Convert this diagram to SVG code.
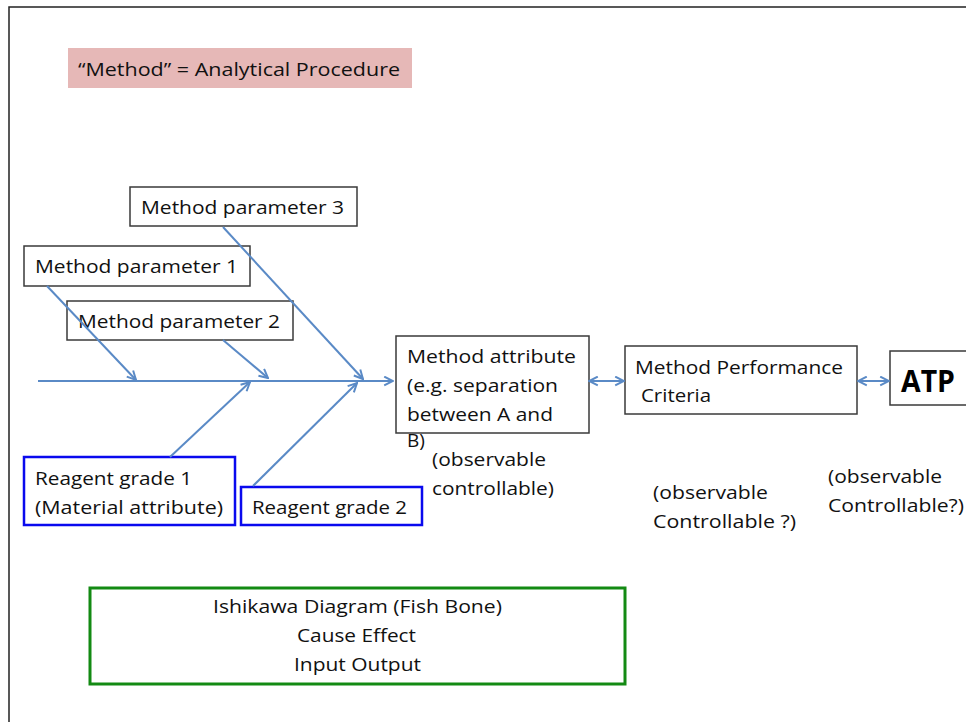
<svg xmlns="http://www.w3.org/2000/svg" width="966" height="722" viewBox="0 0 966 722">
<style>
.t{font-family:"Open Sans","Liberation Sans",sans-serif;font-size:19px;fill:#111}
.b{fill:#fff;stroke:#3a3a3a;stroke-width:1.5}
.blue{fill:#fff;stroke:#0a0aee;stroke-width:2.5}
.c{fill:none;stroke:#5a8ac6;stroke-width:2}
</style>
<defs>
<marker id="ah" viewBox="0 0 10 10" refX="9" refY="5" markerWidth="11" markerHeight="11" markerUnits="userSpaceOnUse" orient="auto-start-reverse">
<path d="M1,1 L9,5 L1,9" fill="none" stroke="#5a8ac6" stroke-width="1.8"/>
</marker>
</defs>
<rect width="966" height="722" fill="#fff"/>
<g id="frame">
<path d="M9,722 V7 H966" fill="none" stroke="#222" stroke-width="1.5"/>
</g>
<g id="title">
<rect x="68" y="48" width="344" height="40" fill="#e6b8b7"/>
<text class="t" x="78" y="76" textLength="322" lengthAdjust="spacingAndGlyphs">“Method” = Analytical Procedure</text>
</g>
<g id="mp3">
<rect class="b" x="130" y="187" width="227" height="39"/>
<text class="t" x="141" y="214" textLength="203" lengthAdjust="spacingAndGlyphs">Method parameter 3</text>
</g>
<g id="mp1">
<rect class="b" x="24" y="246" width="226" height="40"/>
<text class="t" x="35" y="273" textLength="203" lengthAdjust="spacingAndGlyphs">Method parameter 1</text>
</g>
<g id="mp2">
<rect class="b" x="67" y="301" width="226" height="39"/>
<text class="t" x="78" y="328" textLength="202" lengthAdjust="spacingAndGlyphs">Method parameter 2</text>
</g>
<g id="rg1">
<rect class="blue" x="24" y="457" width="211" height="68"/>
<text class="t" x="35" y="485" textLength="157" lengthAdjust="spacingAndGlyphs">Reagent grade 1</text>
<text class="t" x="35" y="514" textLength="188" lengthAdjust="spacingAndGlyphs">(Material attribute)</text>
</g>
<g id="rg2">
<rect class="blue" x="241" y="487" width="181" height="38"/>
<text class="t" x="252" y="514" textLength="155" lengthAdjust="spacingAndGlyphs">Reagent grade 2</text>
</g>
<g id="attr">
<rect class="b" x="396" y="336" width="193" height="97"/>
<text class="t" x="407" y="363" textLength="169" lengthAdjust="spacingAndGlyphs">Method attribute</text>
<text class="t" x="407" y="392" textLength="151" lengthAdjust="spacingAndGlyphs">(e.g. separation</text>
<text class="t" x="407" y="421" textLength="146" lengthAdjust="spacingAndGlyphs">between A and</text>
<text class="t" x="407" y="447">B)</text>
<text class="t" x="432" y="466" textLength="114" lengthAdjust="spacingAndGlyphs">(observable</text>
<text class="t" x="432" y="495" textLength="122" lengthAdjust="spacingAndGlyphs">controllable)</text>
</g>
<g id="mpc">
<rect class="b" x="625" y="346" width="232" height="68"/>
<text class="t" x="635" y="374" textLength="208" lengthAdjust="spacingAndGlyphs">Method Performance</text>
<text class="t" x="641" y="402" textLength="70" lengthAdjust="spacingAndGlyphs">Criteria</text>
<text class="t" x="653" y="499" textLength="115" lengthAdjust="spacingAndGlyphs">(observable</text>
<text class="t" x="653" y="528" textLength="143" lengthAdjust="spacingAndGlyphs">Controllable ?)</text>
</g>
<g id="atp">
<rect class="b" x="890" y="351" width="90" height="54"/>
<text x="901" y="392" style="font-family:'Open Sans','Liberation Sans',sans-serif;font-size:30px;font-weight:bold;fill:#000" textLength="54" lengthAdjust="spacingAndGlyphs">ATP</text>
<text class="t" x="828" y="483" textLength="114" lengthAdjust="spacingAndGlyphs">(observable</text>
<text class="t" x="828" y="512" textLength="136" lengthAdjust="spacingAndGlyphs">Controllable?)</text>
</g>
<g id="legend">
<rect x="90" y="588" width="535" height="96" fill="#fff" stroke="#138a13" stroke-width="3"/>
<text class="t" x="357.5" y="613" text-anchor="middle" textLength="289" lengthAdjust="spacingAndGlyphs">Ishikawa Diagram (Fish Bone)</text>
<text class="t" x="356.5" y="642" text-anchor="middle" textLength="119" lengthAdjust="spacingAndGlyphs">Cause Effect</text>
<text class="t" x="357.5" y="671" text-anchor="middle" textLength="127" lengthAdjust="spacingAndGlyphs">Input Output</text>
</g>
<g id="connectors">
<path class="c" d="M38,381 H393" marker-end="url(#ah)"/>
<path class="c" d="M47,286 L136,380" marker-end="url(#ah)"/>
<path class="c" d="M223,340 L268,378" marker-end="url(#ah)"/>
<path class="c" d="M223,227 L363,379" marker-end="url(#ah)"/>
<path class="c" d="M170,457 L250,382" marker-end="url(#ah)"/>
<path class="c" d="M253,486 L357,383" marker-end="url(#ah)"/>
<path class="c" d="M589,381 H624" marker-start="url(#ah)" marker-end="url(#ah)"/>
<path class="c" d="M858,381 H889" marker-start="url(#ah)" marker-end="url(#ah)"/>
</g>
</svg>
